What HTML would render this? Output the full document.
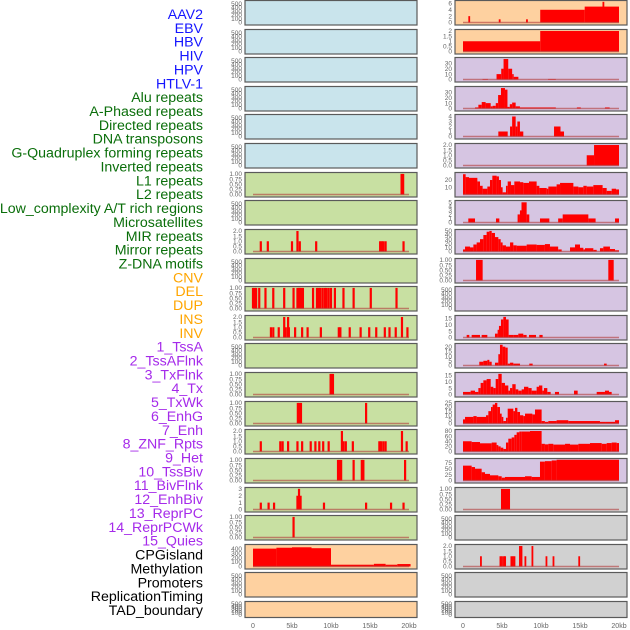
<!DOCTYPE html>
<html><head><meta charset="utf-8"><style>
html,body{margin:0;padding:0;background:#fff;}
svg{display:block;font-family:"Liberation Sans",sans-serif;}
</style></head><body>
<svg id="chart" width="630" height="630" viewBox="0 0 630 630" xmlns="http://www.w3.org/2000/svg"></svg>
<script>
// ---- labels ----
const labels=["AAV2","EBV","HBV","HIV","HPV","HTLV-1","Alu repeats","A-Phased repeats","Directed repeats","DNA transposons","G-Quadruplex forming repeats","Inverted repeats","L1 repeats","L2 repeats","Low_complexity A/T rich regions","Microsatellites","MIR repeats","Mirror repeats","Z-DNA motifs","CNV","DEL","DUP","INS","INV","1_TssA","2_TssAFlnk","3_TxFlnk","4_Tx","5_TxWk","6_EnhG","7_Enh","8_ZNF_Rpts","9_Het","10_TssBiv","11_BivFlnk","12_EnhBiv","13_ReprPC","14_ReprPCWk","15_Quies","CPGisland","Methylation","Promoters","ReplicationTiming","TAD_boundary"];
const labelGroups=[0,0,0,0,0,0,1,1,1,1,1,1,1,1,1,1,1,1,1,2,2,2,2,2,3,3,3,3,3,3,3,3,3,3,3,3,3,3,3,4,4,4,4,4];
const xTickLabels=["0","5kb","10kb","15kb","20kb"];
const xTickValues=[0,5,10,15,20];

// ---- left column data (spikes: positions in kb, values) ----
const L6_pos=[19.05,19.25], L6_val=[1,1];
const L8_pos=[1.0,1.9,5.0,5.7,6.0,8.1,16.3,16.5,16.7,17.0,19.3], L8_val=[1,1,1,2,1,1,1,1,1,1,1];
const L10_pos=[0.0,0.2,0.4,0.8,1.6,2.6,4.0,5.2,5.7,5.9,6.0,6.2,6.4,7.7,8.2,8.4,8.6,8.9,9.2,9.4,9.7,10.0,10.5,11.6,12.9,15.1,18.4], L10_val=[1,1,1,1,1,1,1,1,1,1,1,1,1,1,1,1,1,1,1,1,1,1,1,1,1,1,1];
const L11_pos=[2.3,2.6,3.3,4.0,4.2,4.5,4.6,5.4,6.3,7.0,8.7,11.0,11.2,12.4,13.8,14.9,15.8,16.9,17.5,18.3,19.1,19.8], L11_val=[1,1,1,2,1,2,1,1,1,1,1,1,1,1,1,1,1,1,1,1,2,1];
const L13_pos=[9.95,10.1,10.25], L13_val=[1,1,1];
const L14_pos=[5.75,5.95,6.15,14.5], L14_val=[1,1,1,1];
const L15_pos=[1.0,3.5,3.8,4.5,5.7,6.3,7.4,8.0,8.5,9.0,9.7,11.4,11.6,11.9,12.8,16.2,16.4,16.7,17.0,19.1,19.7], L15_val=[1,1,1,1,1,1,1,1,1,1,1,2,1,1,1,1,1,1,1,2,1];
const L16_pos=[10.9,11.1,11.3,12.9,13.95,14.15,19.5], L16_val=[1,1,1,1,1,1,1];
const L17_pos=[1.0,2.0,2.7,5.7,5.9,6.1,9.1,14.5,17.7,19.3], L17_val=[1,1,1,2,3,2,1,1,1,1];
const L18_pos=[5.2], L18_val=[1];
const L19_edges=[0,3,5,7.5,10,15.5,17,18.5,20.2], L19_vals=[400,420,430,410,40,60,40,55];

// ---- right column data (segments: edges in kb, values) ----
const R0_edges=[0,9.9,15.6,20], R0_vals=[0,4,5];
const R0_pos=[0.8,4.7,8.2,18.0], R0_val=[2,1,1,6.5];
const R1_edges=[0,9.9,20], R1_vals=[1,2];
const R2_edges=[2.5,3.2,4.3,4.9,5.2,5.8,6.3,6.5,7.1,10.9,11.9], R2_vals=[1,0,10,20,38,20,10,5,0,1];
const R3_edges=[1.54,1.97,2.4,2.9,3.55,3.8,4.2,4.5,4.87,5.38,5.7,6.0,6.3,6.75,7.3,11.9,14.6,15.1,18.2,18.8], R3_vals=[2,7,12,10,4,5,10,25,38,35,3,8,11,4,2,0,2,0,2];
const R4_edges=[4.53,5.73,6.03,6.3,6.75,6.97,7.3,7.73,11.67,12.5,12.95], R4_vals=[1,0,2,4,2,3,1,0,2,1];
const R5_edges=[15.86,16.8,20], R5_vals=[1,2];
const R6_edges=[0,0.34,0.77,1.84,2.18,2.52,3.12,3.46,3.76,4.31,4.61,4.87,5.08,5.51,5.73,6.15,6.58,7.31,7.73,8.46,9.44,9.79,10.73,10.94,12.0,12.44,14.15,14.79,15.43,15.86,16.71,17.9,18.42,19.06,19.62,20], R6_vals=[28,24,23,18,12,8,11,20,26,25,20,10,3,12,18,13,18,17,16,18,12,9,8,11,14,16,11,10,12,11,13,9,5,8,7];
const R7_edges=[0.68,1.54,4.23,4.66,7.0,7.3,7.5,8.16,8.5,9.87,11.07,12.2,12.78,16.07,17.0,19.49,20], R7_vals=[1,0,1,0,2,3,5,2,0,1,0,1,2,1,0,1];
const R8_edges=[0,0.26,0.9,1.33,1.75,2.18,2.61,3.03,3.38,3.68,4.1,4.53,4.83,5.08,5.51,6.03,6.45,6.88,8.16,9.44,10.5,11.15,12.2,12.65,13.72,14.36,15.0,15.43,15.64,16.71,17.14,17.56,17.99,18.84,19.49,20], R8_vals=[5,12,10,17,22,30,40,48,50,45,35,30,22,15,12,22,15,14,17,16,18,12,5,0,10,17,9,5,8,4,0,8,12,6,3];
const R9_edges=[1.67,2.52,18.63,19.32], R9_vals=[1,0,1];
const R11_edges=[0.47,0.81,1.11,2.18,2.39,3.12,4.1,4.44,4.61,4.87,5.17,5.51,5.85,6.45,7.09,7.73,8.16,8.46,9.36,9.79,10.21], R11_vals=[2,0,2,0,2,0,3,6,9,14,16,14,2,2,3,2,0,2,0,2];
const R12_edges=[2.09,2.61,3.12,3.38,3.68,4.1,4.53,4.74,5.08,5.43,5.73,6.03,6.45,7.31,8.5,8.93,18.08,18.42], R12_vals=[4,5,6,4,0,3,12,22,20,19,2,3,2,0,2,0,2];
const R13_edges=[0,0.98,1.54,1.97,2.26,2.61,3.03,3.55,3.89,4.19,4.53,4.96,5.38,5.81,6.03,6.32,6.75,7.09,7.52,7.82,8.38,8.8,9.44,9.74,10.17,10.38,10.81,11.24,11.79,12.31,14.23,14.7,17.14,18.2,18.72,19.06], R13_vals=[2,3,2,5,9,11,12,6,5,12,16,9,7,3,5,8,4,3,4,6,5,3,6,7,3,5,2,0,2,0,3,0,2,3,2];
const R14_edges=[0,0.26,1.33,1.75,2.95,3.25,3.59,3.8,4.1,4.4,4.74,4.96,5.17,5.51,5.73,6.45,6.67,6.97,7.31,7.73,7.95,8.89,9.23,10.08,10.5,10.94,12.0,13.5,17.56,18.33,19.49,20], R14_vals=[5,8,9,8,10,15,20,23,25,20,12,8,3,7,18,15,19,14,10,9,12,11,17,3,2,3,4,3,2,2,4];
const R15_edges=[0,1.11,2.18,3.68,4.31,4.53,4.83,5.17,5.51,5.81,6.24,6.58,6.88,7.22,7.52,8.59,10.08,10.5,10.94,11.58,13.08,13.72,14.79,16.28,17.78,18.42,19.06,19.7,20], R15_vals=[40,37,32,35,25,20,15,10,35,50,55,65,75,78,78,80,30,28,30,27,30,27,30,33,30,33,35,33];
const R16_edges=[0,1.11,1.54,2.39,2.82,3.46,4.53,4.96,5.38,7.95,8.8,9.87,10.5,11.37,12.0,20], R16_vals=[63,57,50,35,28,22,18,12,15,18,15,80,82,85,88];
const R17_edges=[4.87,6.03], R17_vals=[1];
const R19_pos=[2.3,4.8,5.0,5.25,5.4,6.2,6.4,6.6,7.3,7.5,8.0,8.9,10.7,11.6,14.9], R19_val=[1,1,1,1,1,1,1,1,2,2,1,2,1,1,1];

// ---- drawing ----
const NS="http://www.w3.org/2000/svg";
const svg=document.getElementById("chart");
function el(tag,attrs,parent){const e=document.createElementNS(NS,tag);for(const k in attrs)e.setAttribute(k,attrs[k]);(parent||svg).appendChild(e);return e;}
const groupColors=["#1515ff","#0a6e0a","#ffa500","#a52aea","#000000"];
labels.forEach((t,i)=>{
  const tx=el("text",{x:203,y:15+i*13.86,"text-anchor":"end","dominant-baseline":"central","font-size":"14.2",fill:groupColors[labelGroups[i]]});
  
  
  tx.textContent=t;
});
const BG={b:"#c9e4ec",g:"#c8e0a2",p:"#fed1a0",u:"#d6c5e2",y:"#d1d1d1"};
const bgL="bbbbbbgggggggggggggppp".split("");
const bgR="ppuuuuuuuuuuuuuuuyyyyy".split("");
const COL={L:{x0:245,x1:417,k0:253,k1:409},R:{x0:455,x1:627,k0:463,k1:619}};
function rowTop(r){return r<21?Math.round(r*28.62)+0.5:601.5;}
function rowH(r){return r<21?24.5:16;}
const T_EMPTY=[0,100,200,300,400,500], T_1=[0,0.25,0.5,0.75,1], T_2=[0,0.5,1,1.5,2];
function fmt(ticks,v){if(ticks===T_1)return v.toFixed(2);if(ticks===T_2)return v.toFixed(1);return String(v);}
function drawPanel(side,r,ticks,ymax,seg,spk,spw){
  const c=COL[side];const top=rowTop(r),h=rowH(r);
  const g=el("g",{});
  
  
  el("rect",{x:c.x0,y:top,width:c.x1-c.x0,height:h,fill:BG[(side==="L"?bgL:bgR)[r]],stroke:"#5a5a5a","stroke-width":1.2},g);
  const y0=top+h-2.5,y1=top+1;
  const ys=v=>y0-(v/ymax)*(y0-y1);
  const xs=k=>c.k0+(k/20)*(c.k1-c.k0);
  ticks.forEach(v=>{
    const t=el("text",{x:c.x0-3,y:ys(v)+2.2,"text-anchor":"end","font-size":"6.5",fill:"#666"},g);
    
    
    t.textContent=fmt(ticks,v);
  });
  if(!seg&&!spk)return;
  if(seg){const [ed,vs]=seg;for(let i=0;i<vs.length&&i<ed.length-1;i++){if(vs[i]<=0)continue;
    const b=el("rect",{x:xs(ed[i]),y:ys(vs[i]),width:Math.max(0.8,xs(ed[i+1])-xs(ed[i])),height:y0-ys(vs[i]),fill:"#ff0000"},g);
    
    }}
  if(spk){const [ps,vs]=spk;for(let i=0;i<ps.length;i++){
    const w=spw||2;
    const b=el("rect",{x:xs(ps[i])-w/2,y:ys(vs[i]),width:w,height:y0-ys(vs[i]),fill:"#ff0000"},g);
    
    }}
  const bl=el("line",{x1:xs(0),x2:xs(20),y1:y0,y2:y0,stroke:"#b03a3a","stroke-opacity":0.6,"stroke-width":1.5},g);
  
  
}
const leftData={6:[T_1,1.02,null,[L6_pos,L6_val]],8:[T_2,2.05,null,[L8_pos,L8_val]],10:[T_1,1.02,null,[L10_pos,L10_val]],11:[T_2,2.05,null,[L11_pos,L11_val]],
 13:[T_1,1.02,null,[L13_pos,L13_val]],14:[T_1,1.02,null,[L14_pos,L14_val]],15:[T_2,2.05,null,[L15_pos,L15_val]],16:[T_1,1.02,null,[L16_pos,L16_val]],
 17:[[0,1,2,3],3.05,null,[L17_pos,L17_val]],18:[T_1,1.02,null,[L18_pos,L18_val]],19:[[0,100,200,300,400],470,[L19_edges,L19_vals],null]};
const rightData={0:[[0,2,4,6],6.6,[R0_edges,R0_vals],[R0_pos,R0_val]],1:[[0,0.5,1,1.5,2],2.05,[R1_edges,R1_vals],null],
 2:[[0,10,20,30],39,[R2_edges,R2_vals],null],3:[[0,10,20,30],39,[R3_edges,R3_vals],null],4:[[0,1,2,3,4],4.2,[R4_edges,R4_vals],null],
 5:[T_2,2.05,[R5_edges,R5_vals],null],6:[[10,20],29,[R6_edges,R6_vals],null],7:[[0,1,2,3,4,5],5.2,[R7_edges,R7_vals],null],
 8:[[0,10,20,30,40,50],51,[R8_edges,R8_vals],null],9:[T_1,1.02,[R9_edges,R9_vals],null],11:[[0,5,10,15],16.3,[R11_edges,R11_vals],null],
 12:[[0,5,10,15,20],22.3,[R12_edges,R12_vals],null],13:[[0,5,10,15],16.3,[R13_edges,R13_vals],null],14:[[0,5,10,15,20,25],25.5,[R14_edges,R14_vals],null],
 15:[[0,20,40,60,80],82,[R15_edges,R15_vals],null],16:[[0,25,50,75],89,[R16_edges,R16_vals],null],17:[T_1,1.02,[R17_edges,R17_vals],null],
 19:[T_2,2.05,null,[R19_pos,R19_val]]};
for(let r=0;r<22;r++){
  const d=leftData[r];
  if(d)drawPanel("L",r,d[0],d[1],d[2],d[3],2.2);else drawPanel("L",r,T_EMPTY,560,null,null);
  const e=rightData[r];
  if(e)drawPanel("R",r,e[0],e[1],e[2],e[3],1.8);else drawPanel("R",r,T_EMPTY,560,null,null);
}
["L","R"].forEach(s=>{const c=COL[s];xTickValues.forEach((v,i)=>{
  const t=el("text",{x:c.k0+(v/20)*(c.k1-c.k0),y:628,"text-anchor":"middle","font-size":"7",fill:"#666"});
  
  
  t.textContent=xTickLabels[i];
});});
</script>
</body></html>
